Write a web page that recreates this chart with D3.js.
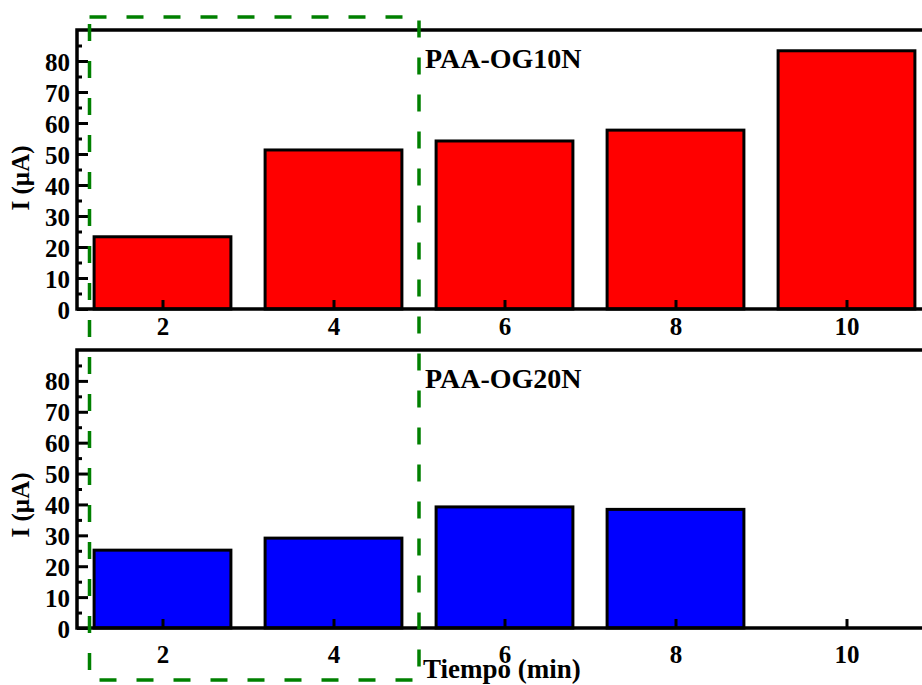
<!DOCTYPE html>
<html>
<head>
<meta charset="utf-8">
<script src="https://cdn.jsdelivr.net/npm/d3@7"></script>
<style>
  body { margin: 0; background: #fff; }
  svg { display: block; }
  text { font-family: "Liberation Serif", "Times New Roman", serif; font-weight: bold; fill: #000; }
</style>
</head>
<body>
<div id="chart"></div>
<script>
// data
const times = [2, 4, 6, 8, 10];
const og10n = [23.3, 51.3, 54.2, 57.7, 83.3];
const og20n = [25.2, 29.1, 39.2, 38.4, 0];
const yMajor = [0, 10, 20, 30, 40, 50, 60, 70, 80];
const yMinor = [5, 15, 25, 35, 45, 55, 65, 75, 85];

const width = 922, height = 685;

const svg = d3.select("#chart")
  .append("svg")
  .attr("width", width)
  .attr("height", height);

const x = d3.scaleLinear().domain([1, 11]).range([77, 932]);

const panels = [
  { name: "PAA-OG10N", values: og10n, fill: "#ff0000", top: 30, bottom: 309, labelPad: 8, ylabelY: 178 },
  { name: "PAA-OG20N", values: og20n, fill: "#0000ff", top: 350, bottom: 628, labelPad: 17, ylabelY: 505 }
];

panels.forEach(function (p) {
  const y = d3.scaleLinear().domain([0, 90]).range([p.bottom, p.top]);
  const g = svg.append("g");

  // bars
  g.selectAll("rect.bar")
    .data(times.map((t, i) => ({ t: t, v: p.values[i] })).filter(d => d.v > 0))
    .enter()
    .append("rect")
    .attr("class", "bar")
    .attr("x", d => x(d.t - 0.8))
    .attr("width", d => x(d.t + 0.8) - x(d.t - 0.8))
    .attr("y", d => y(d.v))
    .attr("height", d => y(0) - y(d.v))
    .style("fill", p.fill)
    .style("stroke", "#000")
    .style("stroke-width", 3);

  // minor y ticks
  g.append("g")
    .attr("transform", "translate(" + x(1) + ",0)")
    .call(d3.axisLeft(y).tickValues(yMinor).tickSize(-5).tickFormat(""))
    .call(a => a.select(".domain").remove())
    .call(a => a.selectAll("line").style("stroke", "#000").style("stroke-width", 3));

  // major y ticks
  g.append("g")
    .attr("transform", "translate(" + x(1) + ",0)")
    .call(d3.axisLeft(y).tickValues(yMajor).tickSize(-11).tickPadding(7))
    .call(a => a.select(".domain").remove())
    .call(a => a.selectAll("line").style("stroke", "#000").style("stroke-width", 3))
    .call(a => a.selectAll("text")
      .style("font-size", "25px")
      .attr("dy", "0.36em"));

  // x ticks
  g.append("g")
    .attr("transform", "translate(0," + y(0) + ")")
    .call(d3.axisBottom(x).tickValues(times).tickSize(-9).tickPadding(p.labelPad))
    .call(a => a.select(".domain").remove())
    .call(a => a.selectAll("line").style("stroke", "#000").style("stroke-width", 3))
    .call(a => a.selectAll("text").style("font-size", "25px"));

  // frame
  g.append("path")
    .attr("d", "M" + x(11) + "," + y(90) + "H" + x(1) + "V" + y(0) + "H" + x(11))
    .style("fill", "none")
    .style("stroke", "#000")
    .style("stroke-width", 3.5);

  // panel title
  g.append("text")
    .attr("x", 425)
    .attr("y", p.top + 38)
    .style("font-size", "28px")
    .text(p.name);

  // y label
  g.append("text")
    .attr("transform", "translate(29," + p.ylabelY + ") rotate(-90)")
    .attr("text-anchor", "middle")
    .style("font-size", "25px")
    .text("I (\u00b5A)");
});

// x label
svg.append("text")
  .attr("x", 423)
  .attr("y", 678)
  .style("font-size", "27px")
  .text("Tiempo (min)");

// green dashed highlight box
svg.append("rect")
  .attr("x", 89.5)
  .attr("y", 17)
  .attr("width", 419 - 89.5)
  .attr("height", 680 - 17)
  .style("fill", "none")
  .style("stroke", "#008000")
  .style("stroke-width", 3.5)
  .style("stroke-dasharray", "17 20");
</script>
</body>
</html>
